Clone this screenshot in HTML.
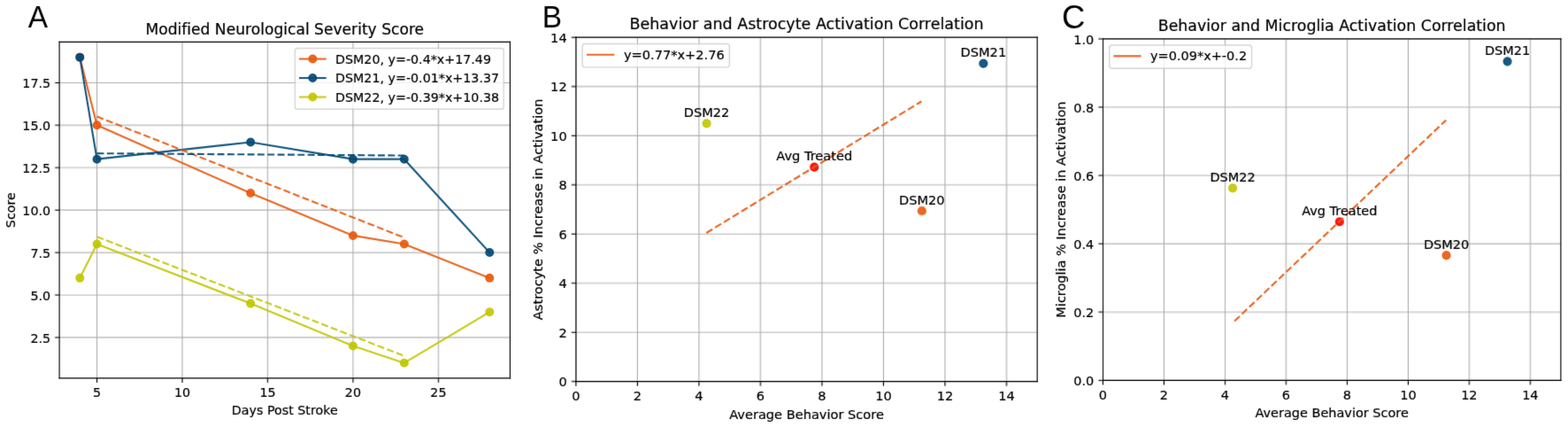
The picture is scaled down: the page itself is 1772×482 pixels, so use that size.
<!DOCTYPE html><html><head><meta charset="utf-8"><style>
html,body{margin:0;padding:0;background:#fff;overflow:hidden;}
svg text{font-variant-ligatures:none;font-feature-settings:"liga" 0,"clig" 0;font-kerning:normal;}
svg svg text{stroke:#000;stroke-width:0.15px;}
</style></head><body>
<svg width="1772" height="482" viewBox="0 0 1772 482" style="display:block">
<defs><filter id="soft" filterUnits="userSpaceOnUse" x="0" y="0" width="1772" height="482" color-interpolation-filters="sRGB"><feConvolveMatrix order="3" kernelMatrix="0.00524 0.06192 0.00524 0.06192 0.73137 0.06192 0.00524 0.06192 0.00524" edgeMode="duplicate" preserveAlpha="true"/></filter></defs>
<g filter="url(#soft)">
<rect width="1772" height="482" fill="#fff"/>
<svg x="-15.052" y="-11.749" width="657.217" height="492.912" viewBox="0 0 460.8 345.6" overflow="visible">
 
 <defs>
  <style type="text/css">*{stroke-linejoin: round; stroke-linecap: butt}</style>
 </defs>
 <g>
  <g>
   <path d="M 0 345.6 
L 460.8 345.6 
L 460.8 0 
L 0 0 
L 0 345.6 
z
" style="fill: none"/>
  </g>
  <g>
   <g>
    <path d="M 57.6 307.584 
L 414.72 307.584 
L 414.72 41.472 
L 57.6 41.472 
L 57.6 307.584 
z
" style="fill: none"/>
   </g>
   <g>
    <g>
     <g>
      <path d="M 87.36 307.584 
L 87.36 41.472 
" clip-path="url(#pf5e69142d9)" style="fill: none; stroke: #b0b0b0; stroke-width: 0.8; stroke-linecap: square"/>
     </g>
     <g>
      <defs>
       <path id="m633b5cc092" d="M 0 0 
L 0 3.5 
" style="stroke: #000000; stroke-width: 0.8"/>
      </defs>
      <g>
       <use href="#m633b5cc092" x="87.36" y="307.584" style="stroke: #000000; stroke-width: 0.8"/>
      </g>
     </g>
     <g>
      <text style="font-size: 10px; font-family: 'DejaVu Sans', sans-serif; text-anchor: middle" x="87.36" y="322.504" transform="rotate(-0 87.36 322.504)">5</text>
     </g>
    </g>
    <g>
     <g>
      <path d="M 154.996364 307.584 
L 154.996364 41.472 
" clip-path="url(#pf5e69142d9)" style="fill: none; stroke: #b0b0b0; stroke-width: 0.8; stroke-linecap: square"/>
     </g>
     <g>
      <g>
       <use href="#m633b5cc092" x="154.996364" y="307.584" style="stroke: #000000; stroke-width: 0.8"/>
      </g>
     </g>
     <g>
      <text style="font-size: 10px; font-family: 'DejaVu Sans', sans-serif; text-anchor: middle" x="154.996364" y="322.504" transform="rotate(-0 154.996364 322.504)">10</text>
     </g>
    </g>
    <g>
     <g>
      <path d="M 222.632727 307.584 
L 222.632727 41.472 
" clip-path="url(#pf5e69142d9)" style="fill: none; stroke: #b0b0b0; stroke-width: 0.8; stroke-linecap: square"/>
     </g>
     <g>
      <g>
       <use href="#m633b5cc092" x="222.632727" y="307.584" style="stroke: #000000; stroke-width: 0.8"/>
      </g>
     </g>
     <g>
      <text style="font-size: 10px; font-family: 'DejaVu Sans', sans-serif; text-anchor: middle" x="222.632727" y="322.504" transform="rotate(-0 222.632727 322.504)">15</text>
     </g>
    </g>
    <g>
     <g>
      <path d="M 290.269091 307.584 
L 290.269091 41.472 
" clip-path="url(#pf5e69142d9)" style="fill: none; stroke: #b0b0b0; stroke-width: 0.8; stroke-linecap: square"/>
     </g>
     <g>
      <g>
       <use href="#m633b5cc092" x="290.269091" y="307.584" style="stroke: #000000; stroke-width: 0.8"/>
      </g>
     </g>
     <g>
      <text style="font-size: 10px; font-family: 'DejaVu Sans', sans-serif; text-anchor: middle" x="290.269091" y="322.504" transform="rotate(-0 290.269091 322.504)">20</text>
     </g>
    </g>
    <g>
     <g>
      <path d="M 357.905455 307.584 
L 357.905455 41.472 
" clip-path="url(#pf5e69142d9)" style="fill: none; stroke: #b0b0b0; stroke-width: 0.8; stroke-linecap: square"/>
     </g>
     <g>
      <g>
       <use href="#m633b5cc092" x="357.905455" y="307.584" style="stroke: #000000; stroke-width: 0.8"/>
      </g>
     </g>
     <g>
      <text style="font-size: 10px; font-family: 'DejaVu Sans', sans-serif; text-anchor: middle" x="357.905455" y="322.504" transform="rotate(-0 357.905455 322.504)">25</text>
     </g>
    </g>
    <g>
     <text style="font-size: 10px; font-family: 'DejaVu Sans', sans-serif; text-anchor: middle" x="236.16" y="336.584" transform="rotate(-0 236.16 336.584)">Days Post Stroke</text>
    </g>
   </g>
   <g>
    <g>
     <g>
      <path d="M 57.6 275.328 
L 414.72 275.328 
" clip-path="url(#pf5e69142d9)" style="fill: none; stroke: #b0b0b0; stroke-width: 0.8; stroke-linecap: square"/>
     </g>
     <g>
      <defs>
       <path id="m8c134b5db0" d="M 0 0 
L -3.5 0 
" style="stroke: #000000; stroke-width: 0.8"/>
      </defs>
      <g>
       <use href="#m8c134b5db0" x="57.6" y="275.328" style="stroke: #000000; stroke-width: 0.8"/>
      </g>
     </g>
     <g>
      <text style="font-size: 10px; font-family: 'DejaVu Sans', sans-serif; text-anchor: end" x="50.6" y="279.288" transform="rotate(-0 50.6 279.288)">2.5</text>
     </g>
    </g>
    <g>
     <g>
      <path d="M 57.6 241.728 
L 414.72 241.728 
" clip-path="url(#pf5e69142d9)" style="fill: none; stroke: #b0b0b0; stroke-width: 0.8; stroke-linecap: square"/>
     </g>
     <g>
      <g>
       <use href="#m8c134b5db0" x="57.6" y="241.728" style="stroke: #000000; stroke-width: 0.8"/>
      </g>
     </g>
     <g>
      <text style="font-size: 10px; font-family: 'DejaVu Sans', sans-serif; text-anchor: end" x="50.6" y="245.688" transform="rotate(-0 50.6 245.688)">5.0</text>
     </g>
    </g>
    <g>
     <g>
      <path d="M 57.6 208.128 
L 414.72 208.128 
" clip-path="url(#pf5e69142d9)" style="fill: none; stroke: #b0b0b0; stroke-width: 0.8; stroke-linecap: square"/>
     </g>
     <g>
      <g>
       <use href="#m8c134b5db0" x="57.6" y="208.128" style="stroke: #000000; stroke-width: 0.8"/>
      </g>
     </g>
     <g>
      <text style="font-size: 10px; font-family: 'DejaVu Sans', sans-serif; text-anchor: end" x="50.6" y="212.088" transform="rotate(-0 50.6 212.088)">7.5</text>
     </g>
    </g>
    <g>
     <g>
      <path d="M 57.6 174.528 
L 414.72 174.528 
" clip-path="url(#pf5e69142d9)" style="fill: none; stroke: #b0b0b0; stroke-width: 0.8; stroke-linecap: square"/>
     </g>
     <g>
      <g>
       <use href="#m8c134b5db0" x="57.6" y="174.528" style="stroke: #000000; stroke-width: 0.8"/>
      </g>
     </g>
     <g>
      <text style="font-size: 10px; font-family: 'DejaVu Sans', sans-serif; text-anchor: end" x="50.6" y="178.488" transform="rotate(-0 50.6 178.488)">10.0</text>
     </g>
    </g>
    <g>
     <g>
      <path d="M 57.6 140.928 
L 414.72 140.928 
" clip-path="url(#pf5e69142d9)" style="fill: none; stroke: #b0b0b0; stroke-width: 0.8; stroke-linecap: square"/>
     </g>
     <g>
      <g>
       <use href="#m8c134b5db0" x="57.6" y="140.928" style="stroke: #000000; stroke-width: 0.8"/>
      </g>
     </g>
     <g>
      <text style="font-size: 10px; font-family: 'DejaVu Sans', sans-serif; text-anchor: end" x="50.6" y="144.888" transform="rotate(-0 50.6 144.888)">12.5</text>
     </g>
    </g>
    <g>
     <g>
      <path d="M 57.6 107.328 
L 414.72 107.328 
" clip-path="url(#pf5e69142d9)" style="fill: none; stroke: #b0b0b0; stroke-width: 0.8; stroke-linecap: square"/>
     </g>
     <g>
      <g>
       <use href="#m8c134b5db0" x="57.6" y="107.328" style="stroke: #000000; stroke-width: 0.8"/>
      </g>
     </g>
     <g>
      <text style="font-size: 10px; font-family: 'DejaVu Sans', sans-serif; text-anchor: end" x="50.6" y="111.288" transform="rotate(-0 50.6 111.288)">15.0</text>
     </g>
    </g>
    <g>
     <g>
      <path d="M 57.6 73.728 
L 414.72 73.728 
" clip-path="url(#pf5e69142d9)" style="fill: none; stroke: #b0b0b0; stroke-width: 0.8; stroke-linecap: square"/>
     </g>
     <g>
      <g>
       <use href="#m8c134b5db0" x="57.6" y="73.728" style="stroke: #000000; stroke-width: 0.8"/>
      </g>
     </g>
     <g>
      <text style="font-size: 10px; font-family: 'DejaVu Sans', sans-serif; text-anchor: end" x="50.6" y="77.688" transform="rotate(-0 50.6 77.688)">17.5</text>
     </g>
    </g>
    <g>
     <text style="font-size: 10px; font-family: 'DejaVu Sans', sans-serif; text-anchor: middle" x="22.3" y="174.528" transform="rotate(-90 22.3 174.528)">Score</text>
    </g>
   </g>
   <g>
    <path d="M 73.832727 53.568 
L 87.36 107.328 
L 209.105455 161.088 
L 290.269091 194.688 
L 330.850909 201.408 
L 398.487273 228.288 
" clip-path="url(#pf5e69142d9)" style="fill: none; stroke: #e9590c; stroke-opacity: 0.9; stroke-width: 1.5; stroke-linecap: square"/>
    <defs>
     <path id="m2b31ef2ba2" d="M 0 3 
C 0.795609 3 1.55874 2.683901 2.12132 2.12132 
C 2.683901 1.55874 3 0.795609 3 0 
C 3 -0.795609 2.683901 -1.55874 2.12132 -2.12132 
C 1.55874 -2.683901 0.795609 -3 0 -3 
C -0.795609 -3 -1.55874 -2.683901 -2.12132 -2.12132 
C -2.683901 -1.55874 -3 -0.795609 -3 0 
C -3 0.795609 -2.683901 1.55874 -2.12132 2.12132 
C -1.55874 2.683901 -0.795609 3 0 3 
z
" style="stroke: #e9590c; stroke-opacity: 0.9"/>
    </defs>
    <g clip-path="url(#pf5e69142d9)">
     <use href="#m2b31ef2ba2" x="73.832727" y="53.568" style="fill: #e9590c; fill-opacity: 0.9; stroke: #e9590c; stroke-opacity: 0.9"/>
     <use href="#m2b31ef2ba2" x="87.36" y="107.328" style="fill: #e9590c; fill-opacity: 0.9; stroke: #e9590c; stroke-opacity: 0.9"/>
     <use href="#m2b31ef2ba2" x="209.105455" y="161.088" style="fill: #e9590c; fill-opacity: 0.9; stroke: #e9590c; stroke-opacity: 0.9"/>
     <use href="#m2b31ef2ba2" x="290.269091" y="194.688" style="fill: #e9590c; fill-opacity: 0.9; stroke: #e9590c; stroke-opacity: 0.9"/>
     <use href="#m2b31ef2ba2" x="330.850909" y="201.408" style="fill: #e9590c; fill-opacity: 0.9; stroke: #e9590c; stroke-opacity: 0.9"/>
     <use href="#m2b31ef2ba2" x="398.487273" y="228.288" style="fill: #e9590c; fill-opacity: 0.9; stroke: #e9590c; stroke-opacity: 0.9"/>
    </g>
   </g>
   <g>
    <path d="M 73.832727 53.568 
L 87.36 134.208 
L 209.105455 120.768 
L 290.269091 134.208 
L 330.850909 134.208 
L 398.487273 208.128 
" clip-path="url(#pf5e69142d9)" style="fill: none; stroke: #004874; stroke-opacity: 0.9; stroke-width: 1.5; stroke-linecap: square"/>
    <defs>
     <path id="m15702fb4f0" d="M 0 3 
C 0.795609 3 1.55874 2.683901 2.12132 2.12132 
C 2.683901 1.55874 3 0.795609 3 0 
C 3 -0.795609 2.683901 -1.55874 2.12132 -2.12132 
C 1.55874 -2.683901 0.795609 -3 0 -3 
C -0.795609 -3 -1.55874 -2.683901 -2.12132 -2.12132 
C -2.683901 -1.55874 -3 -0.795609 -3 0 
C -3 0.795609 -2.683901 1.55874 -2.12132 2.12132 
C -1.55874 2.683901 -0.795609 3 0 3 
z
" style="stroke: #004874; stroke-opacity: 0.9"/>
    </defs>
    <g clip-path="url(#pf5e69142d9)">
     <use href="#m15702fb4f0" x="73.832727" y="53.568" style="fill: #004874; fill-opacity: 0.9; stroke: #004874; stroke-opacity: 0.9"/>
     <use href="#m15702fb4f0" x="87.36" y="134.208" style="fill: #004874; fill-opacity: 0.9; stroke: #004874; stroke-opacity: 0.9"/>
     <use href="#m15702fb4f0" x="209.105455" y="120.768" style="fill: #004874; fill-opacity: 0.9; stroke: #004874; stroke-opacity: 0.9"/>
     <use href="#m15702fb4f0" x="290.269091" y="134.208" style="fill: #004874; fill-opacity: 0.9; stroke: #004874; stroke-opacity: 0.9"/>
     <use href="#m15702fb4f0" x="330.850909" y="134.208" style="fill: #004874; fill-opacity: 0.9; stroke: #004874; stroke-opacity: 0.9"/>
     <use href="#m15702fb4f0" x="398.487273" y="208.128" style="fill: #004874; fill-opacity: 0.9; stroke: #004874; stroke-opacity: 0.9"/>
    </g>
   </g>
   <g>
    <path d="M 73.832727 228.288 
L 87.36 201.408 
L 209.105455 248.448 
L 290.269091 282.048 
L 330.850909 295.488 
L 398.487273 255.168 
" clip-path="url(#pf5e69142d9)" style="fill: none; stroke: #c2c700; stroke-opacity: 0.9; stroke-width: 1.5; stroke-linecap: square"/>
    <defs>
     <path id="m3e82ef9426" d="M 0 3 
C 0.795609 3 1.55874 2.683901 2.12132 2.12132 
C 2.683901 1.55874 3 0.795609 3 0 
C 3 -0.795609 2.683901 -1.55874 2.12132 -2.12132 
C 1.55874 -2.683901 0.795609 -3 0 -3 
C -0.795609 -3 -1.55874 -2.683901 -2.12132 -2.12132 
C -2.683901 -1.55874 -3 -0.795609 -3 0 
C -3 0.795609 -2.683901 1.55874 -2.12132 2.12132 
C -1.55874 2.683901 -0.795609 3 0 3 
z
" style="stroke: #c2c700; stroke-opacity: 0.9"/>
    </defs>
    <g clip-path="url(#pf5e69142d9)">
     <use href="#m3e82ef9426" x="73.832727" y="228.288" style="fill: #c2c700; fill-opacity: 0.9; stroke: #c2c700; stroke-opacity: 0.9"/>
     <use href="#m3e82ef9426" x="87.36" y="201.408" style="fill: #c2c700; fill-opacity: 0.9; stroke: #c2c700; stroke-opacity: 0.9"/>
     <use href="#m3e82ef9426" x="209.105455" y="248.448" style="fill: #c2c700; fill-opacity: 0.9; stroke: #c2c700; stroke-opacity: 0.9"/>
     <use href="#m3e82ef9426" x="290.269091" y="282.048" style="fill: #c2c700; fill-opacity: 0.9; stroke: #c2c700; stroke-opacity: 0.9"/>
     <use href="#m3e82ef9426" x="330.850909" y="295.488" style="fill: #c2c700; fill-opacity: 0.9; stroke: #c2c700; stroke-opacity: 0.9"/>
     <use href="#m3e82ef9426" x="398.487273" y="255.168" style="fill: #c2c700; fill-opacity: 0.9; stroke: #c2c700; stroke-opacity: 0.9"/>
    </g>
   </g>
   <g>
    <path d="M 87.36 100.4736 
L 330.850909 196.3008 
" clip-path="url(#pf5e69142d9)" style="fill: none; stroke-dasharray: 5.55,2.4; stroke-dashoffset: 0; stroke: #e9590c; stroke-opacity: 0.9; stroke-width: 1.5"/>
   </g>
   <g>
    <path d="M 87.36 129.6384 
L 330.850909 131.3184 
" clip-path="url(#pf5e69142d9)" style="fill: none; stroke-dasharray: 5.55,2.4; stroke-dashoffset: 0; stroke: #004874; stroke-opacity: 0.9; stroke-width: 1.5"/>
   </g>
   <g>
    <path d="M 87.36 195.6288 
L 330.850909 289.9776 
" clip-path="url(#pf5e69142d9)" style="fill: none; stroke-dasharray: 5.55,2.4; stroke-dashoffset: 0; stroke: #c2c700; stroke-opacity: 0.9; stroke-width: 1.5"/>
   </g>
   <g>
    <path d="M 57.6 307.584 
L 57.6 41.472 
" style="fill: none; stroke: #000000; stroke-width: 0.8; stroke-linejoin: miter; stroke-linecap: square"/>
   </g>
   <g>
    <path d="M 414.72 307.584 
L 414.72 41.472 
" style="fill: none; stroke: #000000; stroke-width: 0.8; stroke-linejoin: miter; stroke-linecap: square"/>
   </g>
   <g>
    <path d="M 57.6 307.584 
L 414.72 307.584 
" style="fill: none; stroke: #000000; stroke-width: 0.8; stroke-linejoin: miter; stroke-linecap: square"/>
   </g>
   <g>
    <path d="M 57.6 41.472 
L 414.72 41.472 
" style="fill: none; stroke: #000000; stroke-width: 0.8; stroke-linejoin: miter; stroke-linecap: square"/>
   </g>
   <g>
    <text style="font-size: 12px; font-family: 'DejaVu Sans', sans-serif; text-anchor: middle" x="236.16" y="35.472" transform="rotate(-0 236.16 35.472)">Modified Neurological Severity Score</text>
   </g>
   <g>
    <g>
     <path d="M 246.3 94.712 
L 407.72 94.712 
Q 409.72 94.712 409.72 92.712 
L 409.72 48.472 
Q 409.72 46.472 407.72 46.472 
L 246.3 46.472 
Q 244.3 46.472 244.3 48.472 
L 244.3 92.712 
Q 244.3 94.712 246.3 94.712 
z
" style="fill: #ffffff; opacity: 0.8; stroke: #cccccc; stroke-linejoin: miter"/>
    </g>
    <g>
     <path d="M 248.3 54.892 
L 258.3 54.892 
L 268.3 54.892 
" style="fill: none; stroke: #e9590c; stroke-opacity: 0.9; stroke-width: 1.5; stroke-linecap: square"/>
     <g>
      <use href="#m2b31ef2ba2" x="258.3" y="54.892" style="fill: #e9590c; fill-opacity: 0.9; stroke: #e9590c; stroke-opacity: 0.9"/>
     </g>
    </g>
    <g>
     <text style="font-size: 10px; font-family: 'DejaVu Sans', sans-serif; text-anchor: start" x="276.3" y="58.392" transform="rotate(-0 276.3 58.392)">DSM20, y=-0.4*x+17.49</text>
    </g>
    <g>
     <path d="M 248.3 69.972 
L 258.3 69.972 
L 268.3 69.972 
" style="fill: none; stroke: #004874; stroke-opacity: 0.9; stroke-width: 1.5; stroke-linecap: square"/>
     <g>
      <use href="#m15702fb4f0" x="258.3" y="69.972" style="fill: #004874; fill-opacity: 0.9; stroke: #004874; stroke-opacity: 0.9"/>
     </g>
    </g>
    <g>
     <text style="font-size: 10px; font-family: 'DejaVu Sans', sans-serif; text-anchor: start" x="276.3" y="73.472" transform="rotate(-0 276.3 73.472)">DSM21, y=-0.01*x+13.37</text>
    </g>
    <g>
     <path d="M 248.3 85.052 
L 258.3 85.052 
L 268.3 85.052 
" style="fill: none; stroke: #c2c700; stroke-opacity: 0.9; stroke-width: 1.5; stroke-linecap: square"/>
     <g>
      <use href="#m3e82ef9426" x="258.3" y="85.052" style="fill: #c2c700; fill-opacity: 0.9; stroke: #c2c700; stroke-opacity: 0.9"/>
     </g>
    </g>
    <g>
     <text style="font-size: 10px; font-family: 'DejaVu Sans', sans-serif; text-anchor: start" x="276.3" y="88.552" transform="rotate(-0 276.3 88.552)">DSM22, y=-0.39*x+10.38</text>
    </g>
   </g>
  </g>
 </g>
 <defs>
  <clipPath id="pf5e69142d9">
   <rect x="57.6" y="41.472" width="357.12" height="266.112"/>
  </clipPath>
 </defs>
</svg>
<svg x="566.822" y="-18.366" width="672.622" height="504.466" viewBox="0 0 460.8 345.6" overflow="visible">
 
 <defs>
  <style type="text/css">*{stroke-linejoin: round; stroke-linecap: butt}</style>
 </defs>
 <g>
  <g>
   <path d="M 0 345.6 
L 460.8 345.6 
L 460.8 0 
L 0 0 
L 0 345.6 
z
" style="fill: none"/>
  </g>
  <g>
   <g>
    <path d="M 57.6 307.584 
L 414.72 307.584 
L 414.72 41.472 
L 57.6 41.472 
L 57.6 307.584 
z
" style="fill: none"/>
   </g>
   <g>
    <g>
     <g>
      <path d="M 57.6 307.584 
L 57.6 41.472 
" clip-path="url(#pc20d56991b)" style="fill: none; stroke: #b0b0b0; stroke-width: 0.8; stroke-linecap: square"/>
     </g>
     <g>
      <defs>
       <path id="m3f1c4794f1" d="M 0 0 
L 0 3.5 
" style="stroke: #000000; stroke-width: 0.8"/>
      </defs>
      <g>
       <use href="#m3f1c4794f1" x="57.6" y="307.584" style="stroke: #000000; stroke-width: 0.8"/>
      </g>
     </g>
     <g>
      <text style="font-size: 10px; font-family: 'DejaVu Sans', sans-serif; text-anchor: middle" x="57.6" y="322.504" transform="rotate(-0 57.6 322.504)">0</text>
     </g>
    </g>
    <g>
     <g>
      <path d="M 105.216 307.584 
L 105.216 41.472 
" clip-path="url(#pc20d56991b)" style="fill: none; stroke: #b0b0b0; stroke-width: 0.8; stroke-linecap: square"/>
     </g>
     <g>
      <g>
       <use href="#m3f1c4794f1" x="105.216" y="307.584" style="stroke: #000000; stroke-width: 0.8"/>
      </g>
     </g>
     <g>
      <text style="font-size: 10px; font-family: 'DejaVu Sans', sans-serif; text-anchor: middle" x="105.216" y="322.504" transform="rotate(-0 105.216 322.504)">2</text>
     </g>
    </g>
    <g>
     <g>
      <path d="M 152.832 307.584 
L 152.832 41.472 
" clip-path="url(#pc20d56991b)" style="fill: none; stroke: #b0b0b0; stroke-width: 0.8; stroke-linecap: square"/>
     </g>
     <g>
      <g>
       <use href="#m3f1c4794f1" x="152.832" y="307.584" style="stroke: #000000; stroke-width: 0.8"/>
      </g>
     </g>
     <g>
      <text style="font-size: 10px; font-family: 'DejaVu Sans', sans-serif; text-anchor: middle" x="152.832" y="322.504" transform="rotate(-0 152.832 322.504)">4</text>
     </g>
    </g>
    <g>
     <g>
      <path d="M 200.448 307.584 
L 200.448 41.472 
" clip-path="url(#pc20d56991b)" style="fill: none; stroke: #b0b0b0; stroke-width: 0.8; stroke-linecap: square"/>
     </g>
     <g>
      <g>
       <use href="#m3f1c4794f1" x="200.448" y="307.584" style="stroke: #000000; stroke-width: 0.8"/>
      </g>
     </g>
     <g>
      <text style="font-size: 10px; font-family: 'DejaVu Sans', sans-serif; text-anchor: middle" x="200.448" y="322.504" transform="rotate(-0 200.448 322.504)">6</text>
     </g>
    </g>
    <g>
     <g>
      <path d="M 248.064 307.584 
L 248.064 41.472 
" clip-path="url(#pc20d56991b)" style="fill: none; stroke: #b0b0b0; stroke-width: 0.8; stroke-linecap: square"/>
     </g>
     <g>
      <g>
       <use href="#m3f1c4794f1" x="248.064" y="307.584" style="stroke: #000000; stroke-width: 0.8"/>
      </g>
     </g>
     <g>
      <text style="font-size: 10px; font-family: 'DejaVu Sans', sans-serif; text-anchor: middle" x="248.064" y="322.504" transform="rotate(-0 248.064 322.504)">8</text>
     </g>
    </g>
    <g>
     <g>
      <path d="M 295.68 307.584 
L 295.68 41.472 
" clip-path="url(#pc20d56991b)" style="fill: none; stroke: #b0b0b0; stroke-width: 0.8; stroke-linecap: square"/>
     </g>
     <g>
      <g>
       <use href="#m3f1c4794f1" x="295.68" y="307.584" style="stroke: #000000; stroke-width: 0.8"/>
      </g>
     </g>
     <g>
      <text style="font-size: 10px; font-family: 'DejaVu Sans', sans-serif; text-anchor: middle" x="295.68" y="322.504" transform="rotate(-0 295.68 322.504)">10</text>
     </g>
    </g>
    <g>
     <g>
      <path d="M 343.296 307.584 
L 343.296 41.472 
" clip-path="url(#pc20d56991b)" style="fill: none; stroke: #b0b0b0; stroke-width: 0.8; stroke-linecap: square"/>
     </g>
     <g>
      <g>
       <use href="#m3f1c4794f1" x="343.296" y="307.584" style="stroke: #000000; stroke-width: 0.8"/>
      </g>
     </g>
     <g>
      <text style="font-size: 10px; font-family: 'DejaVu Sans', sans-serif; text-anchor: middle" x="343.296" y="322.504" transform="rotate(-0 343.296 322.504)">12</text>
     </g>
    </g>
    <g>
     <g>
      <path d="M 390.912 307.584 
L 390.912 41.472 
" clip-path="url(#pc20d56991b)" style="fill: none; stroke: #b0b0b0; stroke-width: 0.8; stroke-linecap: square"/>
     </g>
     <g>
      <g>
       <use href="#m3f1c4794f1" x="390.912" y="307.584" style="stroke: #000000; stroke-width: 0.8"/>
      </g>
     </g>
     <g>
      <text style="font-size: 10px; font-family: 'DejaVu Sans', sans-serif; text-anchor: middle" x="390.912" y="322.504" transform="rotate(-0 390.912 322.504)">14</text>
     </g>
    </g>
    <g>
     <text style="font-size: 10px; font-family: 'DejaVu Sans', sans-serif; text-anchor: middle" x="236.16" y="336.584" transform="rotate(-0 236.16 336.584)">Average Behavior Score</text>
    </g>
   </g>
   <g>
    <g>
     <g>
      <path d="M 57.6 307.584 
L 414.72 307.584 
" clip-path="url(#pc20d56991b)" style="fill: none; stroke: #b0b0b0; stroke-width: 0.8; stroke-linecap: square"/>
     </g>
     <g>
      <defs>
       <path id="m7700c5e719" d="M 0 0 
L -3.5 0 
" style="stroke: #000000; stroke-width: 0.8"/>
      </defs>
      <g>
       <use href="#m7700c5e719" x="57.6" y="307.584" style="stroke: #000000; stroke-width: 0.8"/>
      </g>
     </g>
     <g>
      <text style="font-size: 10px; font-family: 'DejaVu Sans', sans-serif; text-anchor: end" x="50.6" y="311.544" transform="rotate(-0 50.6 311.544)">0</text>
     </g>
    </g>
    <g>
     <g>
      <path d="M 57.6 269.568 
L 414.72 269.568 
" clip-path="url(#pc20d56991b)" style="fill: none; stroke: #b0b0b0; stroke-width: 0.8; stroke-linecap: square"/>
     </g>
     <g>
      <g>
       <use href="#m7700c5e719" x="57.6" y="269.568" style="stroke: #000000; stroke-width: 0.8"/>
      </g>
     </g>
     <g>
      <text style="font-size: 10px; font-family: 'DejaVu Sans', sans-serif; text-anchor: end" x="50.6" y="273.528" transform="rotate(-0 50.6 273.528)">2</text>
     </g>
    </g>
    <g>
     <g>
      <path d="M 57.6 231.552 
L 414.72 231.552 
" clip-path="url(#pc20d56991b)" style="fill: none; stroke: #b0b0b0; stroke-width: 0.8; stroke-linecap: square"/>
     </g>
     <g>
      <g>
       <use href="#m7700c5e719" x="57.6" y="231.552" style="stroke: #000000; stroke-width: 0.8"/>
      </g>
     </g>
     <g>
      <text style="font-size: 10px; font-family: 'DejaVu Sans', sans-serif; text-anchor: end" x="50.6" y="235.512" transform="rotate(-0 50.6 235.512)">4</text>
     </g>
    </g>
    <g>
     <g>
      <path d="M 57.6 193.536 
L 414.72 193.536 
" clip-path="url(#pc20d56991b)" style="fill: none; stroke: #b0b0b0; stroke-width: 0.8; stroke-linecap: square"/>
     </g>
     <g>
      <g>
       <use href="#m7700c5e719" x="57.6" y="193.536" style="stroke: #000000; stroke-width: 0.8"/>
      </g>
     </g>
     <g>
      <text style="font-size: 10px; font-family: 'DejaVu Sans', sans-serif; text-anchor: end" x="50.6" y="197.496" transform="rotate(-0 50.6 197.496)">6</text>
     </g>
    </g>
    <g>
     <g>
      <path d="M 57.6 155.52 
L 414.72 155.52 
" clip-path="url(#pc20d56991b)" style="fill: none; stroke: #b0b0b0; stroke-width: 0.8; stroke-linecap: square"/>
     </g>
     <g>
      <g>
       <use href="#m7700c5e719" x="57.6" y="155.52" style="stroke: #000000; stroke-width: 0.8"/>
      </g>
     </g>
     <g>
      <text style="font-size: 10px; font-family: 'DejaVu Sans', sans-serif; text-anchor: end" x="50.6" y="159.48" transform="rotate(-0 50.6 159.48)">8</text>
     </g>
    </g>
    <g>
     <g>
      <path d="M 57.6 117.504 
L 414.72 117.504 
" clip-path="url(#pc20d56991b)" style="fill: none; stroke: #b0b0b0; stroke-width: 0.8; stroke-linecap: square"/>
     </g>
     <g>
      <g>
       <use href="#m7700c5e719" x="57.6" y="117.504" style="stroke: #000000; stroke-width: 0.8"/>
      </g>
     </g>
     <g>
      <text style="font-size: 10px; font-family: 'DejaVu Sans', sans-serif; text-anchor: end" x="50.6" y="121.464" transform="rotate(-0 50.6 121.464)">10</text>
     </g>
    </g>
    <g>
     <g>
      <path d="M 57.6 79.488 
L 414.72 79.488 
" clip-path="url(#pc20d56991b)" style="fill: none; stroke: #b0b0b0; stroke-width: 0.8; stroke-linecap: square"/>
     </g>
     <g>
      <g>
       <use href="#m7700c5e719" x="57.6" y="79.488" style="stroke: #000000; stroke-width: 0.8"/>
      </g>
     </g>
     <g>
      <text style="font-size: 10px; font-family: 'DejaVu Sans', sans-serif; text-anchor: end" x="50.6" y="83.448" transform="rotate(-0 50.6 83.448)">12</text>
     </g>
    </g>
    <g>
     <g>
      <path d="M 57.6 41.472 
L 414.72 41.472 
" clip-path="url(#pc20d56991b)" style="fill: none; stroke: #b0b0b0; stroke-width: 0.8; stroke-linecap: square"/>
     </g>
     <g>
      <g>
       <use href="#m7700c5e719" x="57.6" y="41.472" style="stroke: #000000; stroke-width: 0.8"/>
      </g>
     </g>
     <g>
      <text style="font-size: 10px; font-family: 'DejaVu Sans', sans-serif; text-anchor: end" x="50.6" y="45.432" transform="rotate(-0 50.6 45.432)">14</text>
     </g>
    </g>
    <g>
     <text style="font-size: 10px; font-family: 'DejaVu Sans', sans-serif; text-anchor: middle" x="31.75" y="174.528" transform="rotate(-90 31.75 174.528)">Astrocyte % Increase in Activation</text>
    </g>
   </g>
   <g>
    <defs>
     <path id="maf250b8c35" d="M 0 3 
C 0.795609 3 1.55874 2.683901 2.12132 2.12132 
C 2.683901 1.55874 3 0.795609 3 0 
C 3 -0.795609 2.683901 -1.55874 2.12132 -2.12132 
C 1.55874 -2.683901 0.795609 -3 0 -3 
C -0.795609 -3 -1.55874 -2.683901 -2.12132 -2.12132 
C -2.683901 -1.55874 -3 -0.795609 -3 0 
C -3 0.795609 -2.683901 1.55874 -2.12132 2.12132 
C -1.55874 2.683901 -0.795609 3 0 3 
z
" style="stroke: #e9590c; stroke-opacity: 0.9"/>
    </defs>
    <g clip-path="url(#pc20d56991b)">
     <use href="#maf250b8c35" x="325.44" y="175.66848" style="fill: #e9590c; fill-opacity: 0.9; stroke: #e9590c; stroke-opacity: 0.9"/>
    </g>
   </g>
   <g>
    <defs>
     <path id="md73c25bcb3" d="M 0 3 
C 0.795609 3 1.55874 2.683901 2.12132 2.12132 
C 2.683901 1.55874 3 0.795609 3 0 
C 3 -0.795609 2.683901 -1.55874 2.12132 -2.12132 
C 1.55874 -2.683901 0.795609 -3 0 -3 
C -0.795609 -3 -1.55874 -2.683901 -2.12132 -2.12132 
C -2.683901 -1.55874 -3 -0.795609 -3 0 
C -3 0.795609 -2.683901 1.55874 -2.12132 2.12132 
C -1.55874 2.683901 -0.795609 3 0 3 
z
" style="stroke: #004874; stroke-opacity: 0.9"/>
    </defs>
    <g clip-path="url(#pc20d56991b)">
     <use href="#md73c25bcb3" x="373.056" y="61.62048" style="fill: #004874; fill-opacity: 0.9; stroke: #004874; stroke-opacity: 0.9"/>
    </g>
   </g>
   <g>
    <defs>
     <path id="mfcae8d0712" d="M 0 3 
C 0.795609 3 1.55874 2.683901 2.12132 2.12132 
C 2.683901 1.55874 3 0.795609 3 0 
C 3 -0.795609 2.683901 -1.55874 2.12132 -2.12132 
C 1.55874 -2.683901 0.795609 -3 0 -3 
C -0.795609 -3 -1.55874 -2.683901 -2.12132 -2.12132 
C -2.683901 -1.55874 -3 -0.795609 -3 0 
C -3 0.795609 -2.683901 1.55874 -2.12132 2.12132 
C -1.55874 2.683901 -0.795609 3 0 3 
z
" style="stroke: #c2c700; stroke-opacity: 0.9"/>
    </defs>
    <g clip-path="url(#pc20d56991b)">
     <use href="#mfcae8d0712" x="158.784" y="108" style="fill: #c2c700; fill-opacity: 0.9; stroke: #c2c700; stroke-opacity: 0.9"/>
    </g>
   </g>
   <g>
    <defs>
     <path id="m55b4ff4f3e" d="M 0 3 
C 0.795609 3 1.55874 2.683901 2.12132 2.12132 
C 2.683901 1.55874 3 0.795609 3 0 
C 3 -0.795609 2.683901 -1.55874 2.12132 -2.12132 
C 1.55874 -2.683901 0.795609 -3 0 -3 
C -0.795609 -3 -1.55874 -2.683901 -2.12132 -2.12132 
C -2.683901 -1.55874 -3 -0.795609 -3 0 
C -3 0.795609 -2.683901 1.55874 -2.12132 2.12132 
C -1.55874 2.683901 -0.795609 3 0 3 
z
" style="stroke: #ff0000; stroke-opacity: 0.9"/>
    </defs>
    <g clip-path="url(#pc20d56991b)">
     <use href="#m55b4ff4f3e" x="242.112" y="141.83424" style="fill: #ff0000; fill-opacity: 0.9; stroke: #ff0000; stroke-opacity: 0.9"/>
    </g>
   </g>
   <g>
    <path d="M 158.54592 192.718656 
L 325.130496 90.98784 
" clip-path="url(#pc20d56991b)" style="fill: none; stroke-dasharray: 5.55,2.4; stroke-dashoffset: 0; stroke: #e9590c; stroke-opacity: 0.9; stroke-width: 1.5"/>
   </g>
   <g>
    <path d="M 57.6 307.584 
L 57.6 41.472 
" style="fill: none; stroke: #000000; stroke-width: 0.8; stroke-linejoin: miter; stroke-linecap: square"/>
   </g>
   <g>
    <path d="M 414.72 307.584 
L 414.72 41.472 
" style="fill: none; stroke: #000000; stroke-width: 0.8; stroke-linejoin: miter; stroke-linecap: square"/>
   </g>
   <g>
    <path d="M 57.6 307.584 
L 414.72 307.584 
" style="fill: none; stroke: #000000; stroke-width: 0.8; stroke-linejoin: miter; stroke-linecap: square"/>
   </g>
   <g>
    <path d="M 57.6 41.472 
L 414.72 41.472 
" style="fill: none; stroke: #000000; stroke-width: 0.8; stroke-linejoin: miter; stroke-linecap: square"/>
   </g>
   <g>
    <text style="font-size: 10px; font-family: 'DejaVu Sans', sans-serif; text-anchor: middle" x="325.44" y="170.66848" transform="rotate(-0 325.44 170.66848)">DSM20</text>
   </g>
   <g>
    <text style="font-size: 10px; font-family: 'DejaVu Sans', sans-serif; text-anchor: middle" x="373.056" y="56.62048" transform="rotate(-0 373.056 56.62048)">DSM21</text>
   </g>
   <g>
    <text style="font-size: 10px; font-family: 'DejaVu Sans', sans-serif; text-anchor: middle" x="158.784" y="103" transform="rotate(-0 158.784 103)">DSM22</text>
   </g>
   <g>
    <text style="font-size: 10px; font-family: 'DejaVu Sans', sans-serif; text-anchor: middle" x="242.112" y="136.83424" transform="rotate(-0 242.112 136.83424)">Avg Treated</text>
   </g>
   <g>
    <text style="font-size: 12px; font-family: 'DejaVu Sans', sans-serif; text-anchor: middle" x="236.16" y="35.472" transform="rotate(-0 236.16 35.472)">Behavior and Astrocyte Activation Correlation</text>
   </g>
   <g>
    <g>
     <path d="M 64.6 64.552 
L 174.45 64.552 
Q 176.45 64.552 176.45 62.552 
L 176.45 48.472 
Q 176.45 46.472 174.45 46.472 
L 64.6 46.472 
Q 62.6 46.472 62.6 48.472 
L 62.6 62.552 
Q 62.6 64.552 64.6 64.552 
z
" style="fill: #ffffff; opacity: 0.8; stroke: #cccccc; stroke-linejoin: miter"/>
    </g>
    <g>
     <path d="M 66.6 54.892 
L 76.6 54.892 
L 86.6 54.892 
" style="fill: none; stroke: #e9590c; stroke-opacity: 0.9; stroke-width: 1.5; stroke-linecap: square"/>
    </g>
    <g>
     <text style="font-size: 10px; font-family: 'DejaVu Sans', sans-serif; text-anchor: start" x="94.6" y="58.392" transform="rotate(-0 94.6 58.392)">y=0.77*x+2.76</text>
    </g>
   </g>
  </g>
 </g>
 <defs>
  <clipPath id="pc20d56991b">
   <rect x="57.6" y="41.472" width="357.12" height="266.112"/>
  </clipPath>
 </defs>
</svg>
<svg x="1162.985" y="-16.258" width="667.641" height="500.731" viewBox="0 0 460.8 345.6" overflow="visible">
 
 <defs>
  <style type="text/css">*{stroke-linejoin: round; stroke-linecap: butt}</style>
 </defs>
 <g>
  <g>
   <path d="M 0 345.6 
L 460.8 345.6 
L 460.8 0 
L 0 0 
L 0 345.6 
z
" style="fill: none"/>
  </g>
  <g>
   <g>
    <path d="M 57.6 307.584 
L 414.72 307.584 
L 414.72 41.472 
L 57.6 41.472 
L 57.6 307.584 
z
" style="fill: none"/>
   </g>
   <g>
    <g>
     <g>
      <path d="M 57.6 307.584 
L 57.6 41.472 
" clip-path="url(#p9b98bb6ee9)" style="fill: none; stroke: #b0b0b0; stroke-width: 0.8; stroke-linecap: square"/>
     </g>
     <g>
      <defs>
       <path id="m095102fa67" d="M 0 0 
L 0 3.5 
" style="stroke: #000000; stroke-width: 0.8"/>
      </defs>
      <g>
       <use href="#m095102fa67" x="57.6" y="307.584" style="stroke: #000000; stroke-width: 0.8"/>
      </g>
     </g>
     <g>
      <text style="font-size: 10px; font-family: 'DejaVu Sans', sans-serif; text-anchor: middle" x="57.6" y="322.504" transform="rotate(-0 57.6 322.504)">0</text>
     </g>
    </g>
    <g>
     <g>
      <path d="M 105.216 307.584 
L 105.216 41.472 
" clip-path="url(#p9b98bb6ee9)" style="fill: none; stroke: #b0b0b0; stroke-width: 0.8; stroke-linecap: square"/>
     </g>
     <g>
      <g>
       <use href="#m095102fa67" x="105.216" y="307.584" style="stroke: #000000; stroke-width: 0.8"/>
      </g>
     </g>
     <g>
      <text style="font-size: 10px; font-family: 'DejaVu Sans', sans-serif; text-anchor: middle" x="105.216" y="322.504" transform="rotate(-0 105.216 322.504)">2</text>
     </g>
    </g>
    <g>
     <g>
      <path d="M 152.832 307.584 
L 152.832 41.472 
" clip-path="url(#p9b98bb6ee9)" style="fill: none; stroke: #b0b0b0; stroke-width: 0.8; stroke-linecap: square"/>
     </g>
     <g>
      <g>
       <use href="#m095102fa67" x="152.832" y="307.584" style="stroke: #000000; stroke-width: 0.8"/>
      </g>
     </g>
     <g>
      <text style="font-size: 10px; font-family: 'DejaVu Sans', sans-serif; text-anchor: middle" x="152.832" y="322.504" transform="rotate(-0 152.832 322.504)">4</text>
     </g>
    </g>
    <g>
     <g>
      <path d="M 200.448 307.584 
L 200.448 41.472 
" clip-path="url(#p9b98bb6ee9)" style="fill: none; stroke: #b0b0b0; stroke-width: 0.8; stroke-linecap: square"/>
     </g>
     <g>
      <g>
       <use href="#m095102fa67" x="200.448" y="307.584" style="stroke: #000000; stroke-width: 0.8"/>
      </g>
     </g>
     <g>
      <text style="font-size: 10px; font-family: 'DejaVu Sans', sans-serif; text-anchor: middle" x="200.448" y="322.504" transform="rotate(-0 200.448 322.504)">6</text>
     </g>
    </g>
    <g>
     <g>
      <path d="M 248.064 307.584 
L 248.064 41.472 
" clip-path="url(#p9b98bb6ee9)" style="fill: none; stroke: #b0b0b0; stroke-width: 0.8; stroke-linecap: square"/>
     </g>
     <g>
      <g>
       <use href="#m095102fa67" x="248.064" y="307.584" style="stroke: #000000; stroke-width: 0.8"/>
      </g>
     </g>
     <g>
      <text style="font-size: 10px; font-family: 'DejaVu Sans', sans-serif; text-anchor: middle" x="248.064" y="322.504" transform="rotate(-0 248.064 322.504)">8</text>
     </g>
    </g>
    <g>
     <g>
      <path d="M 295.68 307.584 
L 295.68 41.472 
" clip-path="url(#p9b98bb6ee9)" style="fill: none; stroke: #b0b0b0; stroke-width: 0.8; stroke-linecap: square"/>
     </g>
     <g>
      <g>
       <use href="#m095102fa67" x="295.68" y="307.584" style="stroke: #000000; stroke-width: 0.8"/>
      </g>
     </g>
     <g>
      <text style="font-size: 10px; font-family: 'DejaVu Sans', sans-serif; text-anchor: middle" x="295.68" y="322.504" transform="rotate(-0 295.68 322.504)">10</text>
     </g>
    </g>
    <g>
     <g>
      <path d="M 343.296 307.584 
L 343.296 41.472 
" clip-path="url(#p9b98bb6ee9)" style="fill: none; stroke: #b0b0b0; stroke-width: 0.8; stroke-linecap: square"/>
     </g>
     <g>
      <g>
       <use href="#m095102fa67" x="343.296" y="307.584" style="stroke: #000000; stroke-width: 0.8"/>
      </g>
     </g>
     <g>
      <text style="font-size: 10px; font-family: 'DejaVu Sans', sans-serif; text-anchor: middle" x="343.296" y="322.504" transform="rotate(-0 343.296 322.504)">12</text>
     </g>
    </g>
    <g>
     <g>
      <path d="M 390.912 307.584 
L 390.912 41.472 
" clip-path="url(#p9b98bb6ee9)" style="fill: none; stroke: #b0b0b0; stroke-width: 0.8; stroke-linecap: square"/>
     </g>
     <g>
      <g>
       <use href="#m095102fa67" x="390.912" y="307.584" style="stroke: #000000; stroke-width: 0.8"/>
      </g>
     </g>
     <g>
      <text style="font-size: 10px; font-family: 'DejaVu Sans', sans-serif; text-anchor: middle" x="390.912" y="322.504" transform="rotate(-0 390.912 322.504)">14</text>
     </g>
    </g>
    <g>
     <text style="font-size: 10px; font-family: 'DejaVu Sans', sans-serif; text-anchor: middle" x="236.16" y="336.584" transform="rotate(-0 236.16 336.584)">Average Behavior Score</text>
    </g>
   </g>
   <g>
    <g>
     <g>
      <path d="M 57.6 307.584 
L 414.72 307.584 
" clip-path="url(#p9b98bb6ee9)" style="fill: none; stroke: #b0b0b0; stroke-width: 0.8; stroke-linecap: square"/>
     </g>
     <g>
      <defs>
       <path id="m01a68d5c87" d="M 0 0 
L -3.5 0 
" style="stroke: #000000; stroke-width: 0.8"/>
      </defs>
      <g>
       <use href="#m01a68d5c87" x="57.6" y="307.584" style="stroke: #000000; stroke-width: 0.8"/>
      </g>
     </g>
     <g>
      <text style="font-size: 10px; font-family: 'DejaVu Sans', sans-serif; text-anchor: end" x="50.6" y="311.544" transform="rotate(-0 50.6 311.544)">0.0</text>
     </g>
    </g>
    <g>
     <g>
      <path d="M 57.6 254.3616 
L 414.72 254.3616 
" clip-path="url(#p9b98bb6ee9)" style="fill: none; stroke: #b0b0b0; stroke-width: 0.8; stroke-linecap: square"/>
     </g>
     <g>
      <g>
       <use href="#m01a68d5c87" x="57.6" y="254.3616" style="stroke: #000000; stroke-width: 0.8"/>
      </g>
     </g>
     <g>
      <text style="font-size: 10px; font-family: 'DejaVu Sans', sans-serif; text-anchor: end" x="50.6" y="258.3216" transform="rotate(-0 50.6 258.3216)">0.2</text>
     </g>
    </g>
    <g>
     <g>
      <path d="M 57.6 201.1392 
L 414.72 201.1392 
" clip-path="url(#p9b98bb6ee9)" style="fill: none; stroke: #b0b0b0; stroke-width: 0.8; stroke-linecap: square"/>
     </g>
     <g>
      <g>
       <use href="#m01a68d5c87" x="57.6" y="201.1392" style="stroke: #000000; stroke-width: 0.8"/>
      </g>
     </g>
     <g>
      <text style="font-size: 10px; font-family: 'DejaVu Sans', sans-serif; text-anchor: end" x="50.6" y="205.0992" transform="rotate(-0 50.6 205.0992)">0.4</text>
     </g>
    </g>
    <g>
     <g>
      <path d="M 57.6 147.9168 
L 414.72 147.9168 
" clip-path="url(#p9b98bb6ee9)" style="fill: none; stroke: #b0b0b0; stroke-width: 0.8; stroke-linecap: square"/>
     </g>
     <g>
      <g>
       <use href="#m01a68d5c87" x="57.6" y="147.9168" style="stroke: #000000; stroke-width: 0.8"/>
      </g>
     </g>
     <g>
      <text style="font-size: 10px; font-family: 'DejaVu Sans', sans-serif; text-anchor: end" x="50.6" y="151.8768" transform="rotate(-0 50.6 151.8768)">0.6</text>
     </g>
    </g>
    <g>
     <g>
      <path d="M 57.6 94.6944 
L 414.72 94.6944 
" clip-path="url(#p9b98bb6ee9)" style="fill: none; stroke: #b0b0b0; stroke-width: 0.8; stroke-linecap: square"/>
     </g>
     <g>
      <g>
       <use href="#m01a68d5c87" x="57.6" y="94.6944" style="stroke: #000000; stroke-width: 0.8"/>
      </g>
     </g>
     <g>
      <text style="font-size: 10px; font-family: 'DejaVu Sans', sans-serif; text-anchor: end" x="50.6" y="98.6544" transform="rotate(-0 50.6 98.6544)">0.8</text>
     </g>
    </g>
    <g>
     <g>
      <path d="M 57.6 41.472 
L 414.72 41.472 
" clip-path="url(#p9b98bb6ee9)" style="fill: none; stroke: #b0b0b0; stroke-width: 0.8; stroke-linecap: square"/>
     </g>
     <g>
      <g>
       <use href="#m01a68d5c87" x="57.6" y="41.472" style="stroke: #000000; stroke-width: 0.8"/>
      </g>
     </g>
     <g>
      <text style="font-size: 10px; font-family: 'DejaVu Sans', sans-serif; text-anchor: end" x="50.6" y="45.432" transform="rotate(-0 50.6 45.432)">1.0</text>
     </g>
    </g>
    <g>
     <text style="font-size: 10px; font-family: 'DejaVu Sans', sans-serif; text-anchor: middle" x="28.6" y="174.528" transform="rotate(-90 28.6 174.528)">Microglia % Increase in Activation</text>
    </g>
   </g>
   <g>
    <defs>
     <path id="m57b4afc024" d="M 0 3 
C 0.795609 3 1.55874 2.683901 2.12132 2.12132 
C 2.683901 1.55874 3 0.795609 3 0 
C 3 -0.795609 2.683901 -1.55874 2.12132 -2.12132 
C 1.55874 -2.683901 0.795609 -3 0 -3 
C -0.795609 -3 -1.55874 -2.683901 -2.12132 -2.12132 
C -2.683901 -1.55874 -3 -0.795609 -3 0 
C -3 0.795609 -2.683901 1.55874 -2.12132 2.12132 
C -1.55874 2.683901 -0.795609 3 0 3 
z
" style="stroke: #e9590c; stroke-opacity: 0.9"/>
    </defs>
    <g clip-path="url(#p9b98bb6ee9)">
     <use href="#m57b4afc024" x="325.44" y="210.187008" style="fill: #e9590c; fill-opacity: 0.9; stroke: #e9590c; stroke-opacity: 0.9"/>
    </g>
   </g>
   <g>
    <defs>
     <path id="mbed4b167be" d="M 0 3 
C 0.795609 3 1.55874 2.683901 2.12132 2.12132 
C 2.683901 1.55874 3 0.795609 3 0 
C 3 -0.795609 2.683901 -1.55874 2.12132 -2.12132 
C 1.55874 -2.683901 0.795609 -3 0 -3 
C -0.795609 -3 -1.55874 -2.683901 -2.12132 -2.12132 
C -2.683901 -1.55874 -3 -0.795609 -3 0 
C -3 0.795609 -2.683901 1.55874 -2.12132 2.12132 
C -1.55874 2.683901 -0.795609 3 0 3 
z
" style="stroke: #004874; stroke-opacity: 0.9"/>
    </defs>
    <g clip-path="url(#p9b98bb6ee9)">
     <use href="#mbed4b167be" x="373.056" y="59.035392" style="fill: #004874; fill-opacity: 0.9; stroke: #004874; stroke-opacity: 0.9"/>
    </g>
   </g>
   <g>
    <defs>
     <path id="mc1260fd150" d="M 0 3 
C 0.795609 3 1.55874 2.683901 2.12132 2.12132 
C 2.683901 1.55874 3 0.795609 3 0 
C 3 -0.795609 2.683901 -1.55874 2.12132 -2.12132 
C 1.55874 -2.683901 0.795609 -3 0 -3 
C -0.795609 -3 -1.55874 -2.683901 -2.12132 -2.12132 
C -2.683901 -1.55874 -3 -0.795609 -3 0 
C -3 0.795609 -2.683901 1.55874 -2.12132 2.12132 
C -1.55874 2.683901 -0.795609 3 0 3 
z
" style="stroke: #c2c700; stroke-opacity: 0.9"/>
    </defs>
    <g clip-path="url(#p9b98bb6ee9)">
     <use href="#mc1260fd150" x="158.784" y="157.762944" style="fill: #c2c700; fill-opacity: 0.9; stroke: #c2c700; stroke-opacity: 0.9"/>
    </g>
   </g>
   <g>
    <defs>
     <path id="m4e61a45aa5" d="M 0 3 
C 0.795609 3 1.55874 2.683901 2.12132 2.12132 
C 2.683901 1.55874 3 0.795609 3 0 
C 3 -0.795609 2.683901 -1.55874 2.12132 -2.12132 
C 1.55874 -2.683901 0.795609 -3 0 -3 
C -0.795609 -3 -1.55874 -2.683901 -2.12132 -2.12132 
C -2.683901 -1.55874 -3 -0.795609 -3 0 
C -3 0.795609 -2.683901 1.55874 -2.12132 2.12132 
C -1.55874 2.683901 -0.795609 3 0 3 
z
" style="stroke: #ff0000; stroke-opacity: 0.9"/>
    </defs>
    <g clip-path="url(#p9b98bb6ee9)">
     <use href="#m4e61a45aa5" x="242.112" y="183.974976" style="fill: #ff0000; fill-opacity: 0.9; stroke: #ff0000; stroke-opacity: 0.9"/>
    </g>
   </g>
   <g>
    <path d="M 160.21248 261.413568 
L 325.20192 104.833267 
" clip-path="url(#p9b98bb6ee9)" style="fill: none; stroke-dasharray: 5.55,2.4; stroke-dashoffset: 0; stroke: #e9590c; stroke-opacity: 0.9; stroke-width: 1.5"/>
   </g>
   <g>
    <path d="M 57.6 307.584 
L 57.6 41.472 
" style="fill: none; stroke: #000000; stroke-width: 0.8; stroke-linejoin: miter; stroke-linecap: square"/>
   </g>
   <g>
    <path d="M 414.72 307.584 
L 414.72 41.472 
" style="fill: none; stroke: #000000; stroke-width: 0.8; stroke-linejoin: miter; stroke-linecap: square"/>
   </g>
   <g>
    <path d="M 57.6 307.584 
L 414.72 307.584 
" style="fill: none; stroke: #000000; stroke-width: 0.8; stroke-linejoin: miter; stroke-linecap: square"/>
   </g>
   <g>
    <path d="M 57.6 41.472 
L 414.72 41.472 
" style="fill: none; stroke: #000000; stroke-width: 0.8; stroke-linejoin: miter; stroke-linecap: square"/>
   </g>
   <g>
    <text style="font-size: 10px; font-family: 'DejaVu Sans', sans-serif; text-anchor: middle" x="325.44" y="205.187008" transform="rotate(-0 325.44 205.187008)">DSM20</text>
   </g>
   <g>
    <text style="font-size: 10px; font-family: 'DejaVu Sans', sans-serif; text-anchor: middle" x="373.056" y="54.035392" transform="rotate(-0 373.056 54.035392)">DSM21</text>
   </g>
   <g>
    <text style="font-size: 10px; font-family: 'DejaVu Sans', sans-serif; text-anchor: middle" x="158.784" y="152.762944" transform="rotate(-0 158.784 152.762944)">DSM22</text>
   </g>
   <g>
    <text style="font-size: 10px; font-family: 'DejaVu Sans', sans-serif; text-anchor: middle" x="242.112" y="178.974976" transform="rotate(-0 242.112 178.974976)">Avg Treated</text>
   </g>
   <g>
    <text style="font-size: 12px; font-family: 'DejaVu Sans', sans-serif; text-anchor: middle" x="236.16" y="35.472" transform="rotate(-0 236.16 35.472)">Behavior and Microglia Activation Correlation</text>
   </g>
   <g>
    <g>
     <path d="M 64.6 64.552 
L 171.66 64.552 
Q 173.66 64.552 173.66 62.552 
L 173.66 48.472 
Q 173.66 46.472 171.66 46.472 
L 64.6 46.472 
Q 62.6 46.472 62.6 48.472 
L 62.6 62.552 
Q 62.6 64.552 64.6 64.552 
z
" style="fill: #ffffff; opacity: 0.8; stroke: #cccccc; stroke-linejoin: miter"/>
    </g>
    <g>
     <path d="M 66.6 54.892 
L 76.6 54.892 
L 86.6 54.892 
" style="fill: none; stroke: #e9590c; stroke-opacity: 0.9; stroke-width: 1.5; stroke-linecap: square"/>
    </g>
    <g>
     <text style="font-size: 10px; font-family: 'DejaVu Sans', sans-serif; text-anchor: start" x="94.6" y="58.392" transform="rotate(-0 94.6 58.392)">y=0.09*x+-0.2</text>
    </g>
   </g>
  </g>
 </g>
 <defs>
  <clipPath id="p9b98bb6ee9">
   <rect x="57.6" y="41.472" width="357.12" height="266.112"/>
  </clipPath>
 </defs>
</svg>
<text transform="translate(31.70 31.00) scale(0.95 1)" style="font-family:'Liberation Sans',Arial,sans-serif;font-size:35.2px;fill:#000">A</text>
<text transform="translate(612.70 31.00) scale(0.95 1)" style="font-family:'Liberation Sans',Arial,sans-serif;font-size:35.2px;fill:#000">B</text>
<text transform="translate(1200.00 32.10) scale(0.985 1)" style="font-family:'Liberation Sans',Arial,sans-serif;font-size:37.0px;fill:#000">C</text>
</g>
</svg></body></html>
